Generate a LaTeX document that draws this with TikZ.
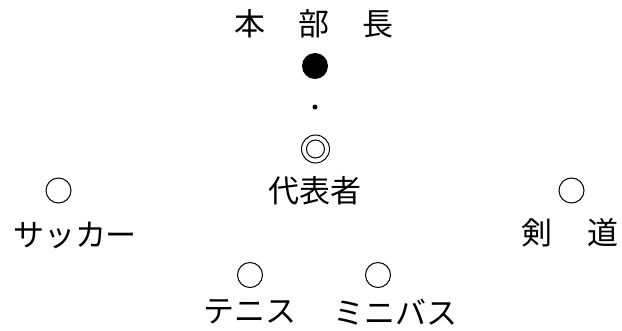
\documentclass[tikz,border=0pt]{standalone}
\usepackage{fontspec}
\setmainfont{Noto Sans CJK JP}
\usetikzlibrary{positioning}

\begin{document}
\begin{tikzpicture}[x=1pt,y=-1pt,
  lbl/.style={inner sep=0pt,font=\fontsize{31}{31}\selectfont},
  ring/.style={circle,draw,line width=1pt,minimum size=25pt,inner sep=0pt}]
\useasboundingbox (0,0) rectangle (622,331);
% head
\node[lbl] (head) at (314,24) {本\hspace{1.08em}部\hspace{1.08em}長};
\node[circle,fill=black,minimum size=26pt,inner sep=0pt] (big) at (315,66) {};
\node[circle,fill=black,minimum size=5pt,inner sep=0pt] (dot) at (315,107) {};
% representative
\node[ring,minimum size=28pt] (rep) at (315.5,149) {};
\node[circle,draw,line width=1pt,minimum size=18pt,inner sep=0pt] at (rep) {};
\node[lbl] (replbl) at (315,191) {代表者};
% clubs
\node[ring] (soccer) at (58.5,190.5) {};
\node[lbl] at (75,235) {サッカー};
\node[ring] (kendo) at (571.5,190.5) {};
\node[lbl] at (570,233) {剣\hspace{1.1em}道};
\node[ring] (tennis) at (250,275) {};
\node[lbl] at (250,312) {テニス};
\node[ring] (minibas) at (378,275) {};
\node[lbl] at (395,312) {ミニバス};
\end{tikzpicture}
\end{document}
